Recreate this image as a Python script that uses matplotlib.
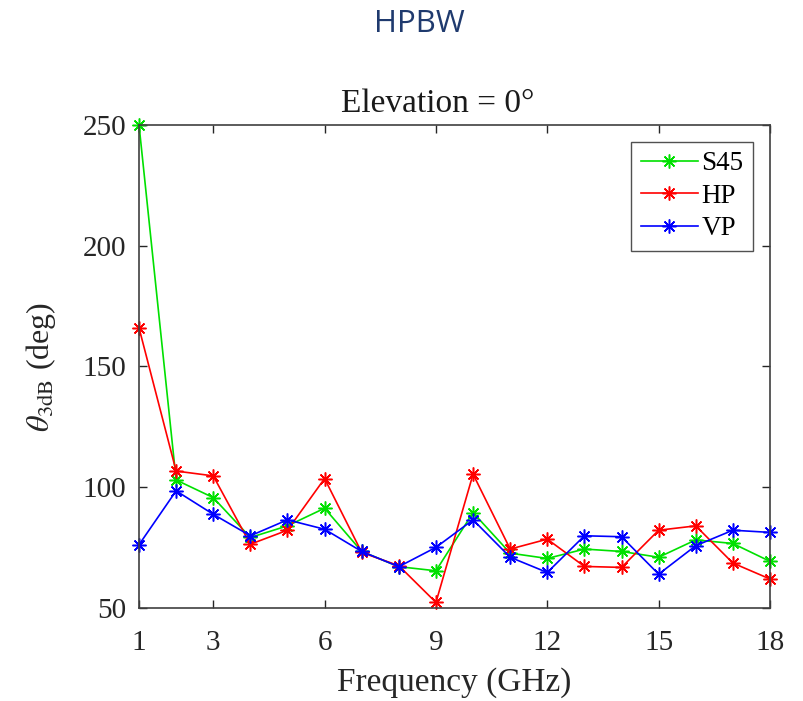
import matplotlib
matplotlib.use("Agg")
import matplotlib.pyplot as plt

freq = list(range(1, 19))
s45 = [250, 103, 95.7, 79.2, 84, 91.3, 73.4, 67.1, 65.4,
       89.5, 72.7, 70.5, 74.4, 73.4, 71, 78.2, 76.7, 69.3]
hp = [166, 106.7, 104.7, 76.4, 82.2, 103.6, 73.0, 67.5, 52.3,
      105.4, 74.4, 78.5, 67.2, 66.8, 82.2, 84, 68.6, 62]
vp = [76.2, 98.5, 88.8, 79.9, 86.5, 82.6, 73.4, 67.1, 75.1,
      86.5, 71, 64.7, 79.9, 79.5, 64, 75.8, 82.2, 81.3]
xticks = [1, 3, 6, 9, 12, 15, 18]
yticks = [50, 100, 150, 200, 250]

plt.rcParams['font.family'] = ['Liberation Serif', 'DejaVu Serif']
plt.rcParams['mathtext.fontset'] = 'stix'

fig = plt.figure(figsize=(8.04, 7.01), dpi=100)
ax = fig.add_axes([0.1729, 0.1327, 0.7848, 0.689])

# matlab style '*' marker: 8 arm asterisk
star = (8, 2, 0)
series = [(s45, '#00e000', 'S45'), (hp, '#ff0000', 'HP'), (vp, '#0000ff', 'VP')]
for vals, col, lab in series:
    ax.plot(freq, vals, color=col, marker=star, markersize=10,
            markeredgewidth=1.1, linewidth=1.2, label=lab, clip_on=False)

ax.set_xlim(1, 18)
ax.set_ylim(50, 250)
ax.set_xticks(xticks)
ax.set_yticks(yticks)
ax.tick_params(direction='in', length=6, width=1, top=True, right=True,
               labelsize=21, colors='#262626')
ax.tick_params(axis='y', pad=9)
ax.tick_params(axis='x', pad=16)
for sp in ax.spines.values():
    sp.set_color('#404040')
    sp.set_linewidth(1.2)

ax.set_title('Elevation = 0°', fontsize=24, pad=9, color='#1a1a1a', x=0.474)
ax.set_xlabel('Frequency (GHz)', fontsize=24, color='#262626', labelpad=8)
ax.set_ylabel(r'$\theta_{\rm 3dB}$ (deg)', fontsize=23, color='#262626',
              labelpad=0)
ax.yaxis.set_label_coords(-0.128, 0.5)

leg = ax.legend(loc='upper right', fontsize=19.5, frameon=True, fancybox=False,
                edgecolor='#262626', borderaxespad=0.62, handlelength=2.1,
                borderpad=0.35, labelspacing=0.28, handletextpad=0.15)
leg.get_frame().set_linewidth(1.0)

fig.text(0.521, 1 - 24 / 701, 'HPBW', fontsize=22.5, color='#1f3a6e',
         family='Open Sans', ha='center', va='center')

fig.savefig('out.png', dpi=100)
